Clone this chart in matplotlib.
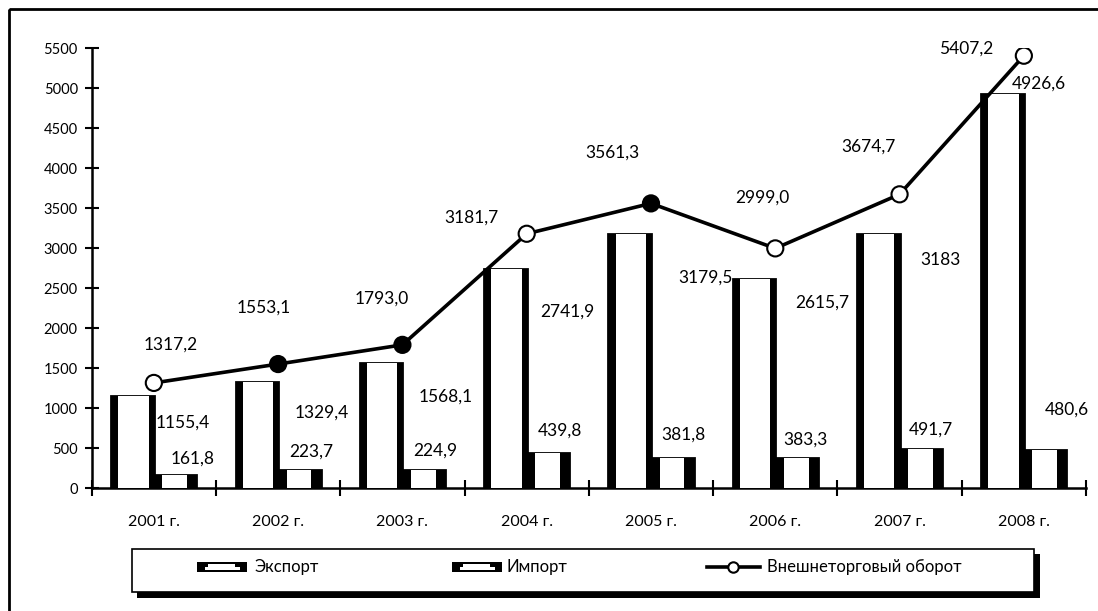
import matplotlib
matplotlib.use("Agg")
import matplotlib.pyplot as plt
from matplotlib.patches import Rectangle
from matplotlib.lines import Line2D
import numpy as np

plt.rcParams['font.family'] = ['Lato', 'DejaVu Sans']

# ---- data ----
years = ["2001 г.", "2002 г.", "2003 г.", "2004 г.", "2005 г.", "2006 г.", "2007 г.", "2008 г."]
export_vals = [1155.4, 1329.4, 1568.1, 2741.9, 3179.5, 2615.7, 3183.0, 4926.6]
import_vals = [161.8, 223.7, 224.9, 439.8, 381.8, 383.3, 491.7, 480.6]
turnover_vals = [1317.2, 1553.1, 1793.0, 3181.7, 3561.3, 2999.0, 3674.7, 5407.2]
export_labels = ["1155,4", "1329,4", "1568,1", "2741,9", "3179,5", "2615,7", "3183", "4926,6"]
import_labels = ["161,8", "223,7", "224,9", "439,8", "381,8", "383,3", "491,7", "480,6"]
turnover_labels = ["1317,2", "1553,1", "1793,0", "3181,7", "3561,3", "2999,0", "3674,7", "5407,2"]
y_ticks = list(range(0, 5501, 500))

# ---- style (label offsets in pixels, marker fills) ----
marker_faces = ['white', 'black', 'black', 'white', 'black', 'white', 'white', 'white']
turn_off = [(17, 38), (-14, 56), (-21, 46), (-55, 16), (-39, 51), (-13, 51), (-31, 48), (-58, 7)]
exp_off = [(50, -27), (65, -31), (65, -34), (62, -43), (76, -44), (68, -24), (62, -26), (36, 11)]
imp_off = [(17, 17), (12, 19), (12, 20), (12, 22), (11, 23), (9, 18), (10, 19), (22, 40)]

W, H = 1098, 611
fig = plt.figure(figsize=(W / 100, H / 100), dpi=100)
fig.patch.set_facecolor('white')

ax = fig.add_axes([91.7 / W, 1 - 488.3 / H, (1086 - 91.7) / W, (488.3 - 48.3) / H])
x = np.arange(len(years))
w = 0.343

# export bars
ax.bar(x - w, export_vals, w, align='edge', color='black', edgecolor='black', linewidth=2, zorder=2)
ax.bar(x - w + 0.17 * w, export_vals, 0.71 * w, align='edge', color='white', linewidth=0, zorder=3)
# import bars
ax.bar(x, import_vals, w, align='edge', color='black', edgecolor='black', linewidth=2, zorder=2)
ax.bar(x + 0.2 * w, import_vals, 0.58 * w, align='edge', color='white', linewidth=0, zorder=3)

# turnover line
ax.plot(x, turnover_vals, color='black', lw=2.6, zorder=5)
ax.scatter(x, turnover_vals, s=135, c=marker_faces, edgecolors='black', linewidths=1.5, zorder=6)

fs = 12.5
for i in range(len(years)):
    ax.annotate(turnover_labels[i], (x[i], turnover_vals[i]), xytext=turn_off[i],
                textcoords='offset pixels', ha='center', va='center', fontsize=fs, zorder=7)
    ax.annotate(export_labels[i], (x[i] - w / 2, export_vals[i]), xytext=exp_off[i],
                textcoords='offset pixels', ha='center', va='center', fontsize=fs, zorder=7)
    ax.annotate(import_labels[i], (x[i] + w / 2, import_vals[i]), xytext=imp_off[i],
                textcoords='offset pixels', ha='center', va='center', fontsize=fs, zorder=7)

ax.set_xlim(-0.5, len(years) - 0.5)
ax.set_ylim(0, 5500)
ax.set_yticks(y_ticks)
ax.set_yticklabels([str(v) for v in y_ticks], fontsize=10.5)
ax.set_xticks(x)
ax.set_xticklabels(years, fontsize=11.5)
ax.set_xticks(np.arange(-0.5, len(years)), minor=True)
ax.tick_params(axis='x', which='major', length=0, pad=19)
ax.tick_params(axis='x', which='minor', direction='inout', length=12, width=1.5)
ax.tick_params(axis='y', direction='inout', length=10, width=1.5, pad=5)
for s in ['top', 'right']:
    ax.spines[s].set_visible(False)
for s in ['left', 'bottom']:
    ax.spines[s].set_linewidth(1.8)
ax.set_facecolor('none')

# ---- overlay: frame & legend ----
ov = fig.add_axes([0, 0, 1, 1], zorder=-1)
ov.set_xlim(0, W)
ov.set_ylim(H, 0)
ov.axis('off')
ov.add_patch(Rectangle((9, 9), 1200, 700, fill=False, edgecolor='black', lw=2))

ov2 = fig.add_axes([0, 0, 1, 1], zorder=5)
ov2.set_xlim(0, W)
ov2.set_ylim(H, 0)
ov2.axis('off')
ov2.patch.set_alpha(0)
ov2.add_patch(Rectangle((137, 554), 903, 44, facecolor='black', edgecolor='black', lw=0))
ov2.add_patch(Rectangle((131.7, 549), 902.3, 43, facecolor='white', edgecolor='black', lw=1.2))

def legend_patch(x0):
    ov2.add_patch(Rectangle((x0, 561.5), 50, 10, facecolor='black', lw=0))
    ov2.add_patch(Rectangle((x0 + 11, 563.5), 27, 3.5, facecolor='white', lw=0))
    ov2.add_patch(Rectangle((x0 + 8, 566.5), 35, 3.5, facecolor='white', lw=0))

ly = 567
legend_patch(197)
ov2.text(255, ly, "Экспорт", fontsize=12, va='center', ha='left')
legend_patch(451.7)
ov2.text(507, ly, "Импорт", fontsize=12, va='center', ha='left')
ov2.add_line(Line2D([706.7, 760], [ly, ly], color='black', lw=2.6))
ov2.plot([733.3], [ly], marker='o', ms=7.5, mfc='white', mec='black', mew=1.5)
ov2.text(767, ly, "Внешнеторговый оборот", fontsize=12, va='center', ha='left')

fig.savefig("out.png", dpi=100)
